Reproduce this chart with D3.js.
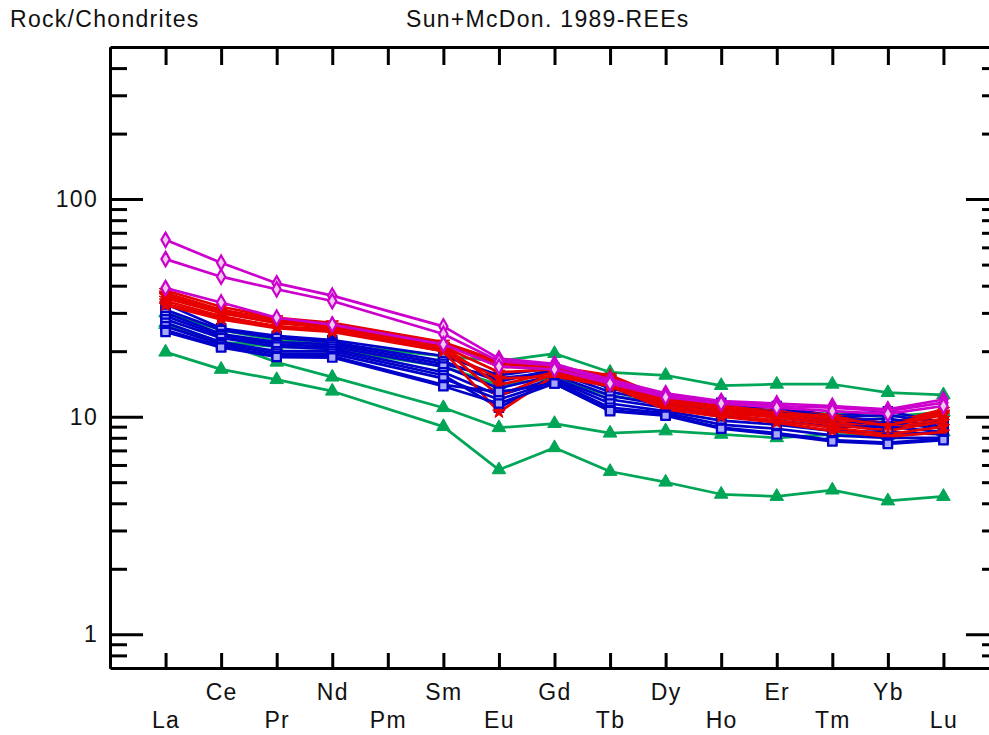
<!DOCTYPE html>
<html>
  <head>
    <meta charset="utf-8">
    <title>REE spider diagram</title>
    <script src="https://d3js.org/d3.v7.min.js"></script>
    <style>
      body { margin: 0; background: #fff; }
      text { font-family: Arial, "Liberation Sans", sans-serif; fill: #111; letter-spacing: 1.3px; }
    </style>
  </head>
  <body>
    <script>

      // chondrite normalised REE, Pm not analysed (null)
      var elements = ["La","Ce","Pr","Nd","Pm","Sm","Eu","Gd","Tb","Dy","Ho","Er","Tm","Yb","Lu"];

      var greenSeries = [
        [30, 25, 22.5, 21.5, null, 19, 18, 19.5, 16, 15.5, 13.9, 14.1, 14.1, 12.9, 12.6],
        [26.5, 22, 21, 20.5, null, 17, 14, 15, 12.5, 11.5, 10.8, 10.5, 10.3, 10, 10.5],
        [27, 22, 17.8, 15.2, null, 11, 8.9, 9.3, 8.4, 8.6, 8.3, 8.0, 8.3, 8.2, 8.5],
        [19.8, 16.5, 14.8, 13.1, null, 9.0, 5.7, 7.2, 5.6, 5.0, 4.4, 4.3, 4.6, 4.1, 4.3]
      ];

      var redSeries = [
        [38, 32, 28.5, 27, null, 22, 18, 17, 15.5, 12.2, 11.4, 10.6, 10.2, 9.3, 10.8],
        [37, 31, 28, 26, null, 21.5, 17, 16.5, 15, 12, 11.2, 10.5, 10, 9.2, 10.5],
        [36, 30, 27, 26, null, 21, 16, 16.5, 14.8, 11.8, 11, 10.3, 9.8, 9.0, 10.2],
        [35, 30, 27, 25.5, null, 21, 14, 16, 14.5, 11.6, 10.8, 10.1, 9.5, 8.8, 9.8],
        [34, 29, 26, 25, null, 20.5, 12.5, 15.8, 14.2, 11.3, 10.5, 9.9, 9.2, 8.6, 9.5],
        [33, 28.5, 26, 25, null, 20, 10.5, 15.5, 14, 11, 10.3, 9.6, 8.9, 8.3, 9.0],
        [32.5, 28, 25.5, 24.5, null, 20, 15, 15.3, 13.8, 10.8, 10, 9.4, 8.6, 8.1, 8.5],
        [36.5, 30.5, 27.5, 25.5, null, 21.5, 17.5, 16.8, 15.2, 12.1, 11.3, 10.4, 9.9, 9.1, 10.4]
      ];

      var blueSeries = [
        [33, 25.5, 23.5, 22.5, null, 19, 15.5, 16.8, 13.9, 12.2, 11.6, 11.2, 10.1, 10.6, 9.4],
        [31, 25, 23, 22, null, 18, 14.5, 16.5, 13.5, 12, 11.3, 11, 9.9, 10.2, 9.3],
        [30, 24, 22, 21.5, null, 17.5, 15, 16, 13, 11.7, 11, 10.5, 9.6, 9.8, 9.0],
        [29, 23.5, 21.5, 21, null, 17, 13.5, 15.5, 12.5, 11.3, 10.5, 10.0, 9.3, 9.4, 8.8],
        [28, 23, 21, 20.5, null, 16, 12.5, 15, 12, 11, 10, 9.6, 9.0, 9.0, 8.5],
        [27, 22, 20, 20, null, 15.5, 11, 14.8, 11.5, 10.6, 9.6, 9.2, 8.6, 8.5, 8.3],
        [26, 21.5, 19.5, 19.5, null, 15, 12, 14.5, 11, 10.4, 9.2, 8.8, 8.2, 8.0, 8.0],
        [25, 21, 19, 19, null, 14, 13, 14.2, 10.7, 10.2, 8.9, 8.4, 7.8, 7.6, 7.9],
        [24.5, 20.8, 18.8, 18.7, null, 13.8, 11.5, 14.2, 10.6, 10.1, 8.8, 8.3, 7.7, 7.5, 7.8]
      ];

      var magentaSeries = [
        [65, 51, 41, 36, null, 26, 18.5, 17.5, 14.8, 12.8, 11.8, 11.5, 11.2, 10.8, 12.0],
        [53, 44, 38.5, 34, null, 24, 18, 17.2, 14.5, 12.5, 11.6, 11.2, 11.0, 10.6, 11.6],
        [39, 33.5, 28.5, 26.5, null, 21.5, 17, 16.5, 14.2, 12.3, 11.5, 11.0, 10.6, 10.3, 11.2]
      ];

      var majorTicks = [1, 10, 100];
      var minorTicks = [0.8, 0.9, 2, 3, 4, 5, 6, 7, 8, 9, 20, 30, 40, 50, 60, 70, 80, 90, 200, 300, 400];

      var svg = d3.select("body").append("svg")
                  .attr("width", 989)
                  .attr("height", 735);

      var plotLeft = 110, plotRight = 999, plotTop = 47, plotBottom = 668;

      var x = d3.scaleLinear().domain([0, 16]).range([plotLeft, plotRight]);
      var y = d3.scaleLog().domain([0.7, 500]).range([plotBottom, plotTop]);

      // titles
      svg.append("text").attr("x", 10).attr("y", 27).style("font-size", "23px").text("Rock/Chondrites");
      svg.append("text").attr("x", 406).attr("y", 27).style("font-size", "23px").text("Sun+McDon. 1989-REEs");

      function pts(arr) {
        return arr.map(function(v, i) { return { i: i, v: v }; }).filter(function(d) { return d.v != null; });
      }

      var line = d3.line()
                   .x(function(d) { return x(d.i + 1); })
                   .y(function(d) { return y(d.v); });

      var green   = { color: "#00a656", fill: "#00a656", sym: d3.symbolTriangle, size: 80, sw: 1 };
      var blue    = { color: "#0000c8", fill: "#a8a8ff", sym: d3.symbolSquare,   size: 70, sw: 2.2 };
      var red     = { color: "#e60000", fill: "#e60000", sym: d3.symbolStar,     size: 50, sw: 1 };
      var magenta = { color: "#cc00cc", fill: "#f0c8f0", sym: d3.symbolDiamond,  size: 60, sw: 2.2 };

      // drawing order: green, then blue and red samples interleaved, magenta on top
      var drawList = [];
      greenSeries.forEach(function(s) { drawList.push({ s: s, st: green }); });
      d3.range(Math.max(blueSeries.length, redSeries.length)).forEach(function(k) {
        if (blueSeries[k]) drawList.push({ s: blueSeries[k], st: blue });
        if (redSeries[k]) drawList.push({ s: redSeries[k], st: red });
      });
      magentaSeries.forEach(function(s) { drawList.push({ s: s, st: magenta }); });

      drawList.forEach(function(item) {
        var g = item.st;
        var p = pts(item.s);
        svg.append("path")
           .datum(p)
           .attr("fill", "none")
           .attr("stroke", g.color)
           .attr("stroke-width", 2.7)
           .attr("stroke-linejoin", "round")
           .attr("d", line);

        svg.selectAll(null)
           .data(p)
           .enter()
           .append("path")
           .attr("transform", function(d) { return "translate(" + x(d.i + 1) + "," + y(d.v) + ")"; })
           .attr("d", d3.symbol().type(g.sym).size(g.size))
           .attr("fill", g.fill)
           .attr("stroke", g.color)
           .attr("stroke-width", g.sw);
      });

      // axes
      var idx = d3.range(1, 16);

      var bottomAxis = svg.append("g")
         .attr("transform", "translate(0," + plotBottom + ")")
         .call(d3.axisBottom(x).tickValues(idx).tickSize(-15).tickSizeOuter(0)
                 .tickFormat(function(d) { return elements[d - 1]; }));
      bottomAxis.selectAll("text")
         .attr("y", function(d) { return d % 2 === 0 ? 32 : 60; })
         .attr("dy", 0)
         .style("font-size", "23px")
         .style("font-family", "Arial, 'Liberation Sans', sans-serif")
         .attr("fill", "#111");

      svg.append("g")
         .attr("transform", "translate(0," + plotTop + ")")
         .call(d3.axisTop(x).tickValues(idx).tickSize(-18).tickSizeOuter(0).tickFormat(""));

      var leftMajor = svg.append("g")
         .attr("transform", "translate(" + plotLeft + ",0)")
         .call(d3.axisLeft(y).tickValues(majorTicks).tickSize(-33).tickSizeOuter(0)
                 .tickFormat(d3.format("d")));
      leftMajor.selectAll("text")
         .attr("x", -12)
         .style("font-size", "23px")
         .style("font-family", "Arial, 'Liberation Sans', sans-serif")
         .attr("fill", "#111");

      svg.append("g")
         .attr("transform", "translate(" + plotLeft + ",0)")
         .call(d3.axisLeft(y).tickValues(minorTicks).tickSize(-17).tickSizeOuter(0).tickFormat(""));

      svg.append("g")
         .attr("transform", "translate(" + plotRight + ",0)")
         .call(d3.axisRight(y).tickValues(majorTicks).tickSize(-33).tickSizeOuter(0).tickFormat(""));

      svg.append("g")
         .attr("transform", "translate(" + plotRight + ",0)")
         .call(d3.axisRight(y).tickValues(minorTicks).tickSize(-17).tickSizeOuter(0).tickFormat(""));

      svg.selectAll(".domain").attr("stroke", "#000").attr("stroke-width", 3);
      svg.selectAll(".tick line").attr("stroke", "#000").attr("stroke-width", 3);

    </script>
  </body>
</html>
